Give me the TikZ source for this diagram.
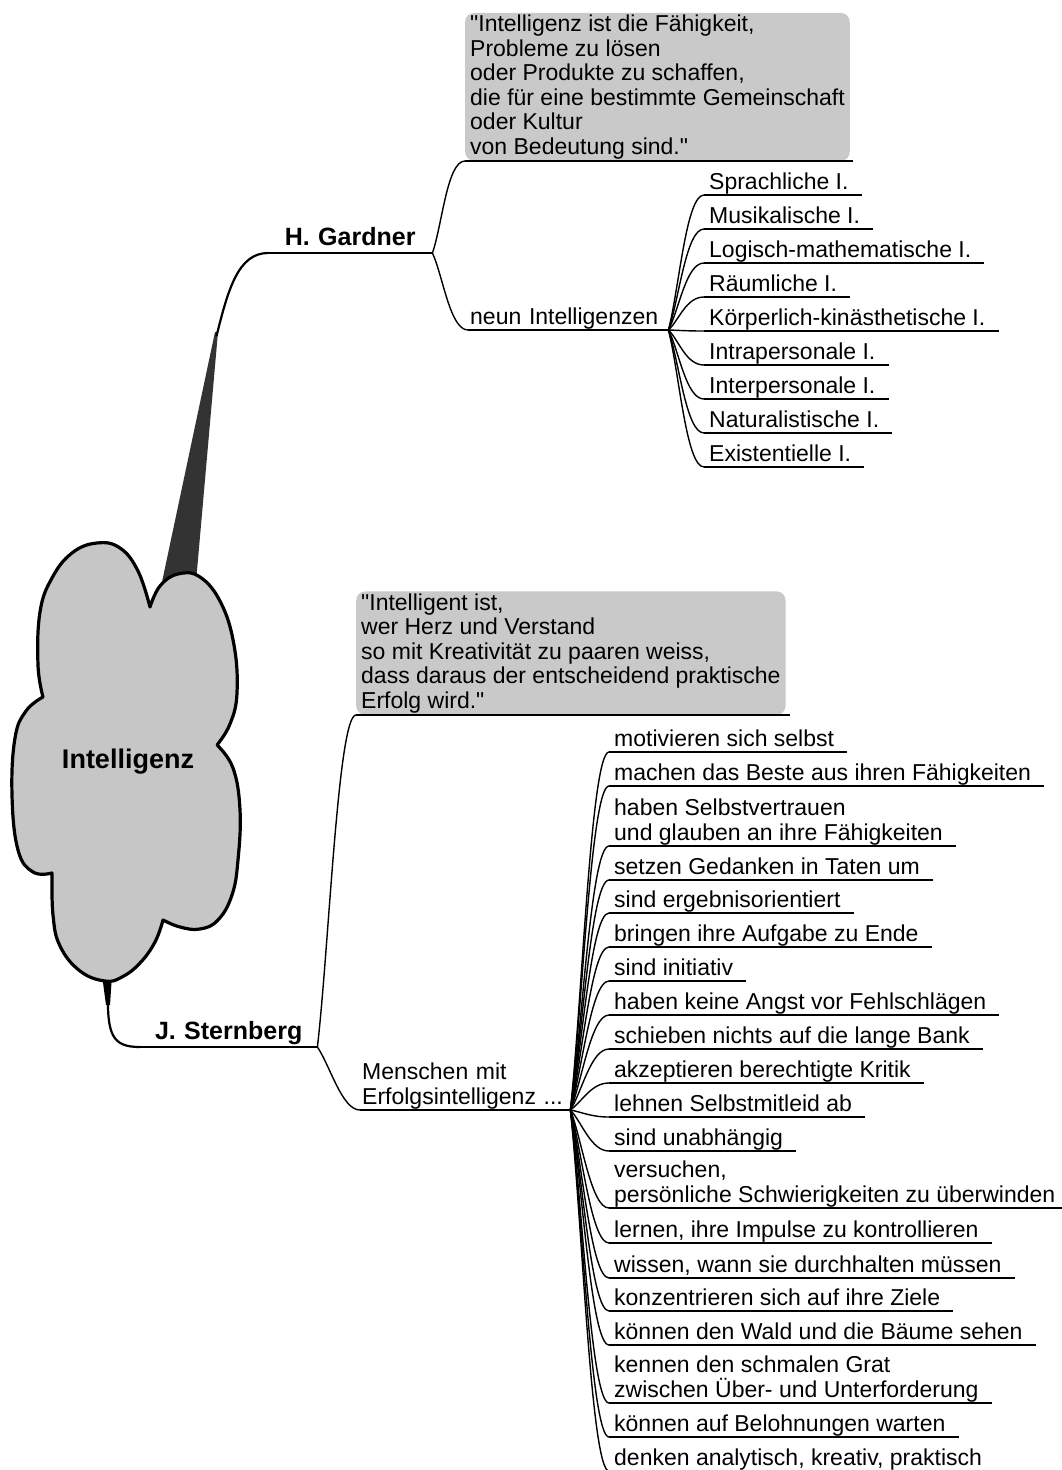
\documentclass[tikz,border=0pt]{standalone}
\usepackage{fontspec}
\setmainfont{Liberation Sans}[Ligatures = TeXOff]
\usetikzlibrary{calc}

\definecolor{boxgray}{HTML}{C9C9C9}
\definecolor{cloudgray}{HTML}{C6C6C6}
\definecolor{stemgray}{HTML}{333333}

\newcommand{\leaffont}{\fontsize{23}{25}\selectfont}
\newcommand{\quotefont}{\fontsize{23}{24.5}\selectfont}
\newcommand{\branchfont}{\fontsize{25}{30}\selectfont\bfseries}
\newcommand{\rootfont}{\fontsize{27}{32}\selectfont\bfseries}
\newcommand{\ulstrut}{\rule[-5pt]{0pt}{5pt}}
\newcommand{\twig}[2]{\draw [twig] (#1) .. controls ($(#1)!0.3!(#2.south west)$) and ($(#2.south west) + (-18, 0)$) .. (#2.south west);}

\begin{document}
\begin{tikzpicture}[x = 1pt, y = -1pt,
	twig/.style = {line width = 1.4pt},
	uline/.style = {line width = 1.4pt},
	stem/.style = {line width = 2.2pt},
	leaf/.style = {anchor = south west, inner xsep = 5pt, inner ysep = 0pt, align = left, font = \leaffont, execute at end node = {\ulstrut}},
	branch/.style = {anchor = south west, inner xsep = 0pt, inner ysep = 2pt, align = center, font = \branchfont, execute at end node = {\ulstrut}},
	quote/.style = {anchor = south west, fill = boxgray, rounded corners = 9pt, inner xsep = 5pt, inner ysep = 2pt, align = left, font = \quotefont, execute at end node = {\rule[-4pt]{0pt}{4pt}}}]

	\useasboundingbox (0, 0) rectangle (1062, 1470);

	% Main stems

	\fill [stemgray] (162, 582) -- (215, 332) -- (218, 332) -- (196, 582) -- cycle;
	\coordinate (stemtop) at (216.5, 336);
	\fill [black] (102, 975) -- (112, 975) -- (110, 1005) -- (106, 1005) -- cycle;
	\coordinate (stembot) at (108, 990);

	% Central cloud

	\draw [fill = cloudgray, line width = 3.2pt, line join = round]
		plot [smooth, tension = 0.7] coordinates {(150, 607) (160, 586) (178, 574) (200, 577) (221, 603) (234, 645) (237, 693) (230, 724) (217, 745)}
		-- plot [smooth, tension = 0.7] coordinates {(217, 745) (233, 768) (240, 810) (238, 860) (232, 895) (218, 920) (200, 929) (180, 927) (163, 920)}
		-- plot [smooth, tension = 0.7] coordinates {(163, 920) (155, 942) (140, 963) (122, 977) (105, 981) (80, 971) (60, 946) (53, 915) (52, 873)}
		-- plot [smooth, tension = 0.7] coordinates {(52, 873) (33, 872) (18, 850) (12, 795) (15, 738) (26, 711) (43, 697)}
		-- plot [smooth, tension = 0.7] coordinates {(43, 697) (38, 665) (40, 612) (52, 578) (72, 553) (97, 543) (120, 548) (138, 571) (150, 607)}
		-- cycle;
	\node [font = \rootfont] (root) at (128, 762) {Intelligenz};

	% Gardner branch

	\node [branch, text width = 164pt] (gard) at (268, 253) {H. Gardner};
	\draw [uline] (gard.south west) -- (gard.south east);
	\draw [stem] (stemtop) .. controls (228, 290) and (238, 253) .. (gard.south west);

	\node [quote] (gquote) at (465, 161) {"Intelligenz ist die Fähigkeit,\\Probleme zu lösen\\oder Produkte zu schaffen,\\die für eine bestimmte Gemeinschaft\\oder Kultur\\von Bedeutung sind."};
	\draw [uline] (gquote.south west) -- ([xshift = 3pt] gquote.south east);
	\twig{gard.south east}{gquote}

	\node [leaf, inner xsep = 2pt, text width = 196pt] (neun) at (468, 330) {neun Intelligenzen};
	\draw [uline] (neun.south west) -- (neun.south east);
	\twig{gard.south east}{neun}

	\foreach \y/\t [count = \i] in {195/Sprachliche I., 229/Musikalische I., 263/Logisch-mathematische I., 297/Räumliche I., 331/Körperlich-kinästhetische I., 365/Intrapersonale I., 399/Interpersonale I., 433/Naturalistische I., 467/Existentielle I.}
	{
		\node [leaf] (g\i) at (704, \y) {\t};
		\draw [uline] (g\i.south west) -- ([xshift = 8pt] g\i.south east);
		\twig{neun.south east}{g\i}
	}

	% Sternberg branch

	\node [branch, text width = 177pt] (stern) at (140, 1047) {J. Sternberg};
	\draw [uline] (stern.south west) -- (stern.south east);
	\draw [stem] (stembot) .. controls (107, 1035) and (112, 1047) .. (stern.south west);

	\node [quote] (squote) at (356, 715) {"Intelligent ist,\\wer Herz und Verstand\\so mit Kreativität zu paaren weiss,\\dass daraus der entscheidend praktische\\Erfolg wird."};
	\draw [uline] (squote.south west) -- ([xshift = 4pt] squote.south east);
	\twig{stern.south east}{squote}

	\node [leaf, inner xsep = 2pt, text width = 206pt] (mensch) at (360, 1110) {Menschen mit\\Erfolgsintelligenz ...};
	\draw [uline] (mensch.south west) -- (mensch.south east);
	\twig{stern.south east}{mensch}

	\foreach \y/\t [count = \i] in {752/motivieren sich selbst, 786/machen das Beste aus ihren Fähigkeiten, 846/haben Selbstvertrauen\\und glauben an ihre Fähigkeiten, 880/setzen Gedanken in Taten um, 913/sind ergebnisorientiert, 947/bringen ihre Aufgabe zu Ende, 981/sind initiativ, 1015/haben keine Angst vor Fehlschlägen, 1049/schieben nichts auf die lange Bank, 1083/akzeptieren berechtigte Kritik, 1117/lehnen Selbstmitleid ab, 1151/sind unabhängig, {1208/versuchen,\\persönliche Schwierigkeiten zu überwinden}, {1243/lernen, ihre Impulse zu kontrollieren}, {1278/wissen, wann sie durchhalten müssen}, 1311/konzentrieren sich auf ihre Ziele, 1345/können den Wald und die Bäume sehen, 1403/kennen den schmalen Grat\\zwischen Über- und Unterforderung, 1437/können auf Belohnungen warten, {1471/denken analytisch, kreativ, praktisch}}
	{
		\node [leaf] (s\i) at (609, \y) {\t};
		\draw [uline] (s\i.south west) -- ([xshift = 8pt] s\i.south east);
		\twig{mensch.south east}{s\i}
	}

\end{tikzpicture}
\end{document}
